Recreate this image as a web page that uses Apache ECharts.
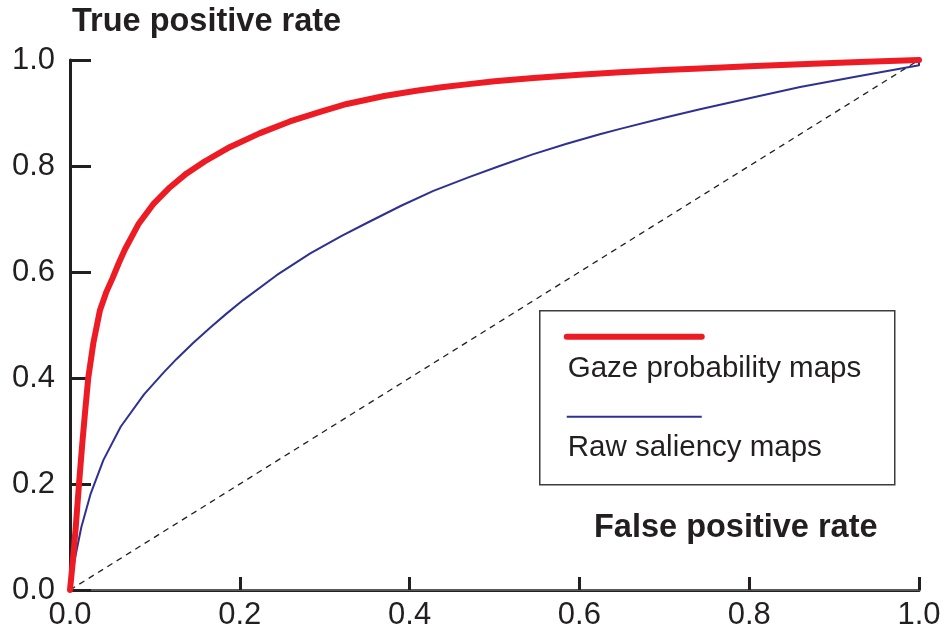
<!DOCTYPE html>
<html>
<head>
<meta charset="utf-8">
<script src="https://cdn.jsdelivr.net/npm/echarts@6/dist/echarts.min.js"></script>
<style>
  html, body { margin: 0; padding: 0; background: #fff; }
  #chart { width: 945px; height: 636px; }
</style>
</head>
<body>
<div id="chart"></div>
<script>
// ROC curves: [false positive rate, true positive rate]
const gazeProbabilityMaps = [
  [0, 0], [0.0035, 0.057], [0.0068, 0.119], [0.0106, 0.2], [0.0145, 0.277],
  [0.018, 0.34], [0.0215, 0.4], [0.0275, 0.466], [0.0353, 0.528], [0.043, 0.563],
  [0.05, 0.588], [0.0575, 0.617], [0.0648, 0.643], [0.0805, 0.69], [0.098, 0.728],
  [0.1178, 0.76], [0.1374, 0.786], [0.159, 0.809], [0.1885, 0.836], [0.2238, 0.862],
  [0.259, 0.884], [0.2945, 0.902], [0.326, 0.917], [0.37, 0.932], [0.408, 0.942],
  [0.44, 0.949], [0.467, 0.954], [0.5, 0.96], [0.546, 0.966], [0.6, 0.972],
  [0.648, 0.977], [0.7, 0.981], [0.742, 0.984], [0.8, 0.988], [0.86, 0.992],
  [0.93, 0.996], [1, 1]
];
const rawSaliencyMaps = [
  [0, 0], [0.0016, 0.025], [0.0055, 0.057], [0.0134, 0.119], [0.0244, 0.182],
  [0.0393, 0.245], [0.0597, 0.308], [0.0872, 0.369], [0.1107, 0.411], [0.1256, 0.436],
  [0.145, 0.466], [0.165, 0.495], [0.184, 0.521], [0.204, 0.547], [0.2434, 0.594],
  [0.283, 0.635], [0.32, 0.668], [0.349, 0.692], [0.39, 0.725], [0.428, 0.753],
  [0.47, 0.779], [0.506, 0.8], [0.545, 0.822], [0.585, 0.842], [0.624, 0.86],
  [0.648, 0.87], [0.7, 0.891], [0.742, 0.907], [0.8, 0.928], [0.86, 0.949],
  [0.93, 0.97], [0.997, 0.989], [1, 0.99], [1, 1]
];
const chanceLine = [[0, 0], [1, 1]];
const seriesNames = ['Gaze probability maps', 'Raw saliency maps'];
const yAxisTitle = 'True positive rate';
const xAxisTitle = 'False positive rate';

const FONT = '"Liberation Sans", Arial, Helvetica, sans-serif';
const INK = '#231F20';
const RED = '#ED1C24';
const BLUE = '#2E3192';

const chart = echarts.init(document.getElementById('chart'), null, { renderer: 'canvas' });

const baseAxis = {
  type: 'value', min: 0, max: 1, interval: 0.2,
  splitLine: { show: false },
  axisLabel: {
    fontFamily: FONT, fontSize: 31, color: INK,
    formatter: v => v.toFixed(1)
  }
};

chart.setOption({
  animation: false,
  backgroundColor: '#fff',
  grid: { left: 70, right: 26, top: 60, bottom: 46 },
  xAxis: [
    Object.assign({}, baseAxis, {
      position: 'bottom',
      axisLine: { lineStyle: { color: INK, width: 3 } },
      axisTick: { inside: true, length: 13, lineStyle: { color: INK, width: 3 } },
      axisLabel: Object.assign({}, baseAxis.axisLabel, { margin: 10 })
    }),
    Object.assign({}, baseAxis, {
      position: 'top',
      axisLine: { lineStyle: { color: '#58595B', width: 2 } },
      axisTick: { show: false },
      axisLabel: { show: false }
    })
  ],
  yAxis: [
    Object.assign({}, baseAxis, {
      position: 'left',
      axisLine: { lineStyle: { color: INK, width: 3 } },
      axisTick: { inside: true, length: 21, lineStyle: { color: INK, width: 3 } },
      axisLabel: Object.assign({}, baseAxis.axisLabel, { margin: 15 })
    }),
    Object.assign({}, baseAxis, {
      position: 'right',
      axisLine: { lineStyle: { color: INK, width: 1.5 } },
      axisTick: { show: false },
      axisLabel: { show: false }
    })
  ],
  series: [
    {
      name: 'chance', type: 'line', data: chanceLine, symbol: 'none',
      lineStyle: { color: INK, width: 1.3, type: [6, 5] }, z: 1
    },
    {
      name: seriesNames[1], type: 'line', data: rawSaliencyMaps, symbol: 'none',
      lineStyle: { color: BLUE, width: 2, join: 'round' }, z: 2
    },
    {
      name: seriesNames[0], type: 'line', data: gazeProbabilityMaps, symbol: 'none',
      lineStyle: { color: RED, width: 6, cap: 'round', join: 'round' }, z: 3
    }
  ],
  graphic: [
    {
      type: 'text', left: 72, top: 6,
      style: { text: yAxisTitle, font: 'bold 32.5px ' + FONT, fill: INK }
    },
    {
      type: 'text', left: 594, top: 512,
      style: { text: xAxisTitle, font: 'bold 32.5px ' + FONT, fill: INK }
    },
    {
      type: 'group', left: 539, top: 310,
      children: [
        {
          type: 'rect', shape: { x: 0, y: 0, width: 355, height: 174 },
          style: { fill: '#fff', stroke: '#3C3C3C', lineWidth: 1.5 }
        },
        {
          type: 'line', shape: { x1: 27, y1: 26, x2: 162, y2: 26 },
          style: { stroke: RED, lineWidth: 6, lineCap: 'round' }
        },
        {
          type: 'text', x: 28, y: 43,
          style: { text: seriesNames[0], font: '29.5px ' + FONT, fill: INK }
        },
        {
          type: 'line', shape: { x1: 27, y1: 106, x2: 162, y2: 106 },
          style: { stroke: BLUE, lineWidth: 2 }
        },
        {
          type: 'text', x: 28, y: 122,
          style: { text: seriesNames[1], font: '29.5px ' + FONT, fill: INK }
        }
      ]
    }
  ]
});
</script>
</body>
</html>
